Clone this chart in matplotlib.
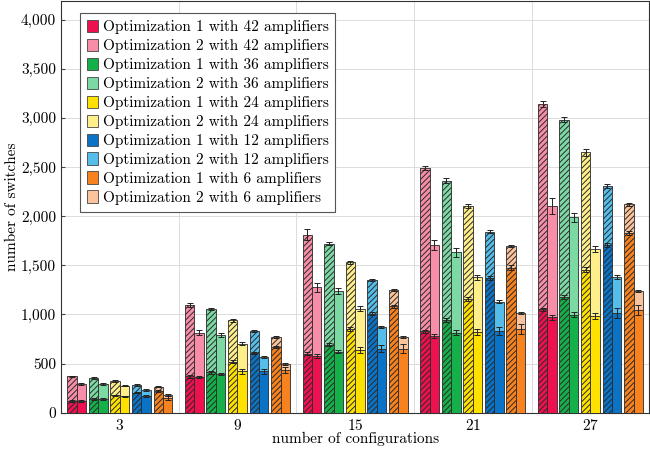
import matplotlib
matplotlib.use("Agg")
import matplotlib.pyplot as plt
from matplotlib.patches import Patch
from matplotlib.ticker import FuncFormatter, MultipleLocator
import numpy as np

plt.rcParams['font.family'] = ['cmr10', 'DejaVu Serif']
plt.rcParams['mathtext.fontset'] = 'cm'
plt.rcParams['axes.formatter.use_mathtext'] = True
plt.rcParams['hatch.linewidth'] = 0.7

configs = [3, 9, 15, 21, 27]
amplifiers = [42, 36, 24, 12, 6]

dark_colors = ['#EE1150', '#16B04A', '#FFE100', '#0B73C5', '#F7821E']
light_colors = ['#F78DA7', '#7DD9A3', '#FFEF8A', '#55BDE9', '#FBC39B']

# Hatched bars: Optimization 1 level (bottom) and stacked Optimization 2 level (top)
hatched_opt1 = {
    42: [120, 370, 600, 830, 1050],
    36: [140, 410, 690, 940, 1175],
    24: [175, 520, 850, 1160, 1455],
    12: [205, 610, 1005, 1370, 1710],
    6:  [220, 670, 1085, 1475, 1830],
}
hatched_top = {
    42: [370, 1100, 1810, 2490, 3140],
    36: [355, 1055, 1720, 2360, 2980],
    24: [320, 940, 1530, 2100, 2650],
    12: [280, 830, 1350, 1840, 2310],
    6:  [265, 770, 1250, 1700, 2120],
}
# Solid bars
solid_opt1 = {
    42: [120, 360, 575, 780, 970],
    36: [140, 395, 620, 815, 995],
    24: [165, 420, 640, 820, 985],
    12: [170, 420, 650, 830, 1015],
    6:  [150, 430, 650, 855, 1045],
}
solid_top = {
    42: [295, 815, 1275, 1710, 2100],
    36: [290, 790, 1235, 1630, 1990],
    24: [275, 700, 1060, 1380, 1670],
    12: [230, 565, 870, 1130, 1380],
    6:  [180, 500, 770, 1010, 1240],
}
# error half-widths
hatched_err1 = {
    42: [8, 12, 15, 15, 20], 36: [8, 12, 15, 20, 20], 24: [8, 15, 20, 20, 25],
    12: [8, 12, 15, 20, 20], 6: [8, 12, 15, 25, 20],
}
hatched_err2 = {
    42: [8, 20, 55, 25, 30], 36: [8, 12, 15, 25, 25], 24: [8, 15, 15, 20, 35],
    12: [8, 10, 12, 15, 20], 6: [8, 10, 12, 10, 12],
}
solid_err1 = {
    42: [8, 12, 20, 20, 25], 36: [8, 12, 15, 25, 25], 24: [8, 25, 30, 30, 30],
    12: [10, 25, 35, 40, 50], 6: [20, 30, 45, 50, 55],
}
solid_err2 = {
    42: [10, 25, 45, 50, 80], 36: [10, 20, 30, 45, 45], 24: [8, 15, 25, 25, 30],
    12: [8, 12, 12, 15, 20], 6: [8, 10, 10, 10, 10],
}

fig = plt.figure(figsize=(6.5, 4.53), dpi=100)
ax = fig.add_axes([0.0938, 0.089, 0.905, 0.909])

x = np.array(configs, dtype=float)
pitch = 1.1
bw = 0.48
edge = '#2a2a2a'
ekw = dict(fmt='none', ecolor='#222222', elinewidth=0.7, capsize=2.5, capthick=0.7, zorder=4)

for i, a in enumerate(amplifiers):
    off = (i - 2) * pitch
    xh = x + off - bw / 2
    xs = x + off + bw / 2
    h1 = np.array(hatched_opt1[a]); h2 = np.array(hatched_top[a])
    s1 = np.array(solid_opt1[a]); s2 = np.array(solid_top[a])
    ax.bar(xh, h1, bw, color=dark_colors[i], edgecolor=edge, linewidth=0.6, hatch='//////', zorder=3)
    ax.bar(xh, h2 - h1, bw, bottom=h1, color=light_colors[i], edgecolor=edge, linewidth=0.6, hatch='//////', zorder=3)
    ax.bar(xs, s1, bw, color=dark_colors[i], edgecolor=edge, linewidth=0.6, zorder=3)
    ax.bar(xs, s2 - s1, bw, bottom=s1, color=light_colors[i], edgecolor=edge, linewidth=0.6, zorder=3)
    ax.errorbar(xh, h1, yerr=hatched_err1[a], **ekw)
    ax.errorbar(xh, h2, yerr=hatched_err2[a], **ekw)
    ax.errorbar(xs, s1, yerr=solid_err1[a], **ekw)
    ax.errorbar(xs, s2, yerr=solid_err2[a], **ekw)

ax.set_xlim(0, 30)
ax.set_ylim(0, 4190)
ax.set_xticks(configs)
ax.xaxis.set_minor_locator(MultipleLocator(6))
ax.yaxis.set_major_locator(MultipleLocator(500))
ax.yaxis.set_major_formatter(FuncFormatter(lambda v, p: f"{int(v):,}"))
ax.grid(True, which='minor', axis='x', color='#dcdcdc', linewidth=0.7, zorder=0)
ax.grid(True, which='major', axis='y', color='#dcdcdc', linewidth=0.7, zorder=0)
ax.set_axisbelow(True)
ax.tick_params(axis='both', which='major', labelsize=11, direction='in', length=3, color='#444444')
ax.tick_params(axis='x', which='minor', length=0)
ax.tick_params(axis='x', which='major', length=0, pad=4)
for s in ax.spines.values():
    s.set_color('#333333')
    s.set_linewidth(0.8)

ax.set_xlabel('number of configurations', fontsize=11, labelpad=-1)
ax.set_ylabel('number of switches', fontsize=11, labelpad=1)

handles = []
labels = []
for i, a in enumerate(amplifiers):
    handles.append(Patch(facecolor=dark_colors[i], edgecolor='#444444', linewidth=0.6))
    labels.append(f'Optimization 1 with {a} amplifiers')
    handles.append(Patch(facecolor=light_colors[i], edgecolor='#444444', linewidth=0.6))
    labels.append(f'Optimization 2 with {a} amplifiers')
leg = ax.legend(handles, labels, loc='upper left', bbox_to_anchor=(0.032, 0.971), borderaxespad=0,
                fontsize=11, frameon=True, fancybox=False, framealpha=1, edgecolor='#555555',
                handlelength=0.75, handleheight=0.85, handletextpad=0.3, labelspacing=0.3,
                borderpad=0.45)
leg.get_frame().set_linewidth(0.8)
leg.set_zorder(10)

fig.savefig('out.png', dpi=100)
